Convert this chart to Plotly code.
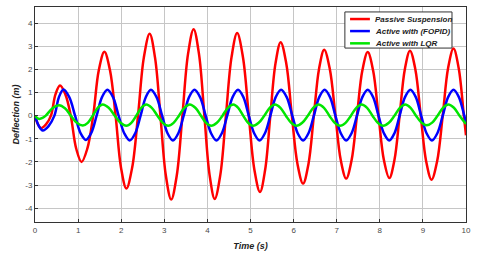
import plotly.graph_objects as go

# Passive suspension (red)
t_passive = [0, 0.07, 0.14, 0.255, 0.37, 0.475, 0.58, 0.705, 0.83, 0.955, 1.08, 1.215, 1.35, 1.48,
             1.61, 1.74, 1.87, 1.995, 2.12, 2.255, 2.39, 2.525, 2.66, 2.785, 2.91, 3.035, 3.16,
             3.29, 3.42, 3.55, 3.68, 3.805, 3.93, 4.05, 4.17, 4.30, 4.43, 4.56, 4.69, 4.825, 4.96,
             5.09, 5.22, 5.34, 5.46, 5.58, 5.70, 5.83, 5.96, 6.09, 6.22, 6.345, 6.47, 6.59, 6.71,
             6.84, 6.97, 7.095, 7.22, 7.345, 7.47, 7.595, 7.72, 7.845, 7.97, 8.095, 8.22, 8.34,
             8.46, 8.58, 8.70, 8.825, 8.95, 9.075, 9.20, 9.33, 9.46, 9.585, 9.71, 9.83, 9.95, 10]
y_passive = [0, -0.38, -0.54, -0.38, 0, 0.92, 1.3, 0.92, 0, -1.42, -2.0, -1.42, 0, 1.96,
             2.76, 1.96, 0, -2.24, -3.15, -2.24, 0, 2.51, 3.54, 2.51, 0, -2.58, -3.63,
             -2.58, 0, 2.66, 3.74, 2.66, 0, -2.56, -3.6, -2.56, 0, 2.53, 3.57, 2.53, 0,
             -2.34, -3.3, -2.34, 0, 2.26, 3.18, 2.26, 0, -2.09, -2.94, -2.09, 0, 2.02, 2.85,
             2.02, 0, -1.93, -2.72, -1.93, 0, 1.95, 2.75, 1.95, 0, -1.92, -2.7, -1.92,
             0, 2.0, 2.81, 2.0, 0, -1.97, -2.77, -1.97, 0, 2.06, 2.9, 2.06, 0, -0.85]

# Active with FOPID (blue)
t_fopid = [0, 0.09, 0.18, 0.315, 0.45, 0.555, 0.66, 0.795, 0.93, 1.055, 1.18, 1.305, 1.43, 1.555,
           1.68, 1.81, 1.94, 2.07, 2.20, 2.325, 2.45, 2.57, 2.69, 2.82, 2.95, 3.075, 3.20,
           3.325, 3.45, 3.575, 3.70, 3.83, 3.96, 4.085, 4.21, 4.335, 4.46, 4.585, 4.71, 4.835, 4.96,
           5.085, 5.21, 5.335, 5.46, 5.585, 5.71, 5.84, 5.97, 6.095, 6.22, 6.345, 6.47, 6.595, 6.72,
           6.845, 6.97, 7.095, 7.22, 7.345, 7.47, 7.595, 7.72, 7.845, 7.97, 8.095, 8.22, 8.34,
           8.46, 8.585, 8.71, 8.835, 8.96, 9.085, 9.21, 9.335, 9.46, 9.585, 9.71, 9.835, 9.96, 10]
y_fopid = [0, -0.45, -0.64, -0.45, 0, 0.8, 1.13, 0.8, 0, -0.75, -1.05, -0.75, 0, 0.8,
           1.12, 0.8, 0, -0.76, -1.07, -0.76, 0, 0.8, 1.12, 0.8, 0, -0.76, -1.07,
           -0.76, 0, 0.8, 1.12, 0.8, 0, -0.76, -1.07, -0.76, 0, 0.8, 1.12, 0.8, 0,
           -0.76, -1.07, -0.76, 0, 0.8, 1.12, 0.8, 0, -0.76, -1.07, -0.76, 0, 0.8, 1.12,
           0.8, 0, -0.76, -1.07, -0.76, 0, 0.8, 1.12, 0.8, 0, -0.76, -1.07, -0.76,
           0, 0.8, 1.12, 0.8, 0, -0.76, -1.07, -0.76, 0, 0.8, 1.12, 0.8, 0, -0.27]

# Active with LQR (green)
t_lqr = [0, 0.05, 0.10, 0.175, 0.25, 0.405, 0.56, 0.695, 0.83, 0.97, 1.11, 1.225, 1.34, 1.455,
         1.57, 1.71, 1.85, 1.985, 2.12, 2.235, 2.35, 2.465, 2.58, 2.71, 2.84, 2.965, 3.09,
         3.215, 3.34, 3.465, 3.59, 3.72, 3.85, 3.97, 4.09, 4.22, 4.35, 4.475, 4.60, 4.715, 4.83,
         4.945, 5.06, 5.19, 5.32, 5.445, 5.57, 5.695, 5.82, 5.945, 6.07, 6.20, 6.33, 6.455, 6.58,
         6.705, 6.83, 6.955, 7.08, 7.205, 7.33, 7.455, 7.58, 7.705, 7.83, 7.955, 8.08, 8.21,
         8.34, 8.465, 8.59, 8.715, 8.84, 8.965, 9.09, 9.215, 9.34, 9.465, 9.59, 9.72, 9.85, 10]
y_lqr = [0, -0.1, -0.14, -0.1, 0, 0.32, 0.45, 0.32, 0, -0.31, -0.43, -0.31, 0, 0.34,
         0.48, 0.34, 0, -0.31, -0.44, -0.31, 0, 0.34, 0.48, 0.34, 0, -0.31, -0.44,
         -0.31, 0, 0.34, 0.48, 0.34, 0, -0.31, -0.44, -0.31, 0, 0.34, 0.48, 0.34, 0,
         -0.31, -0.44, -0.31, 0, 0.34, 0.48, 0.34, 0, -0.31, -0.44, -0.31, 0, 0.34, 0.48,
         0.34, 0, -0.31, -0.44, -0.31, 0, 0.34, 0.48, 0.34, 0, -0.31, -0.44, -0.31,
         0, 0.34, 0.48, 0.34, 0, -0.3, -0.42, -0.3, 0, 0.34, 0.48, 0.34, 0, -0.36]

x_ticks = list(range(0, 11))
y_ticks = [-4, -3, -2, -1, 0, 1, 2, 3, 4]
y_tick_text = ["-4", "-3", "-2", "-1", "0", "1", "2", "3", "4"]

series_names = ["Passive Suspension", "Active with (FOPID)", "Active with LQR"]
series_colors = ["#ff0000", "#0000ff", "#00e600"]
series_data = [(t_passive, y_passive), (t_fopid, y_fopid), (t_lqr, y_lqr)]

FONT = "Liberation Sans, Arial, sans-serif"

fig = go.Figure()
for name, (t, y), c in zip(series_names, series_data, series_colors):
    fig.add_trace(go.Scatter(x=t, y=y, mode="lines", name=name, showlegend=False,
                             line=dict(color=c, width=2.5, shape="spline", smoothing=1.0)))

axis_common = dict(showgrid=True, gridcolor="#c6c6c6", gridwidth=1, automargin=False,
                   showline=True, linecolor="#333333", linewidth=1, mirror=True,
                   zeroline=False, ticks="inside", ticklen=3, tickcolor="#333333",
                   tickfont=dict(family=FONT, size=8, color="#4a4a4a"))

fig.update_xaxes(range=[0, 10], tickvals=x_ticks,
                 title=dict(text="<b><i>Time (s)</i></b>", standoff=9,
                            font=dict(family=FONT, size=9, color="#222222")),
                 **axis_common)
fig.update_yaxes(range=[-4.6, 4.7], tickvals=y_ticks, ticktext=y_tick_text,
                 title=dict(text="<b><i>Deflection (m)</i></b>", standoff=4,
                            font=dict(family=FONT, size=9, color="#222222")),
                 **axis_common)

# Legend box drawn in paper coordinates (compact, as in the original figure)
shapes = [dict(type="rect", xref="paper", yref="paper", x0=0.719, x1=0.9675, y0=0.809, y1=0.977,
               fillcolor="white", line=dict(color="#333333", width=1), layer="above")]
annotations = []
row_y = [0.944, 0.888, 0.831]
for name, c, ry in zip(series_names, series_colors, row_y):
    shapes.append(dict(type="line", xref="paper", yref="paper", x0=0.731, x1=0.777, y0=ry, y1=ry,
                       line=dict(color=c, width=2.5), layer="above"))
    annotations.append(dict(xref="paper", yref="paper", x=0.784, y=ry, xanchor="left",
                            yanchor="middle", showarrow=False,
                            text="<b><i>" + name + "</i></b>",
                            font=dict(family=FONT, size=8, color="#222222")))

fig.update_layout(
    width=480, height=261,
    margin=dict(l=35, r=14, t=7, b=39),
    plot_bgcolor="white", paper_bgcolor="white",
    showlegend=False,
    shapes=shapes, annotations=annotations,
)

fig.write_html("out.html", config={"displayModeBar": False},
               post_script="document.body.style.margin='0px';")
